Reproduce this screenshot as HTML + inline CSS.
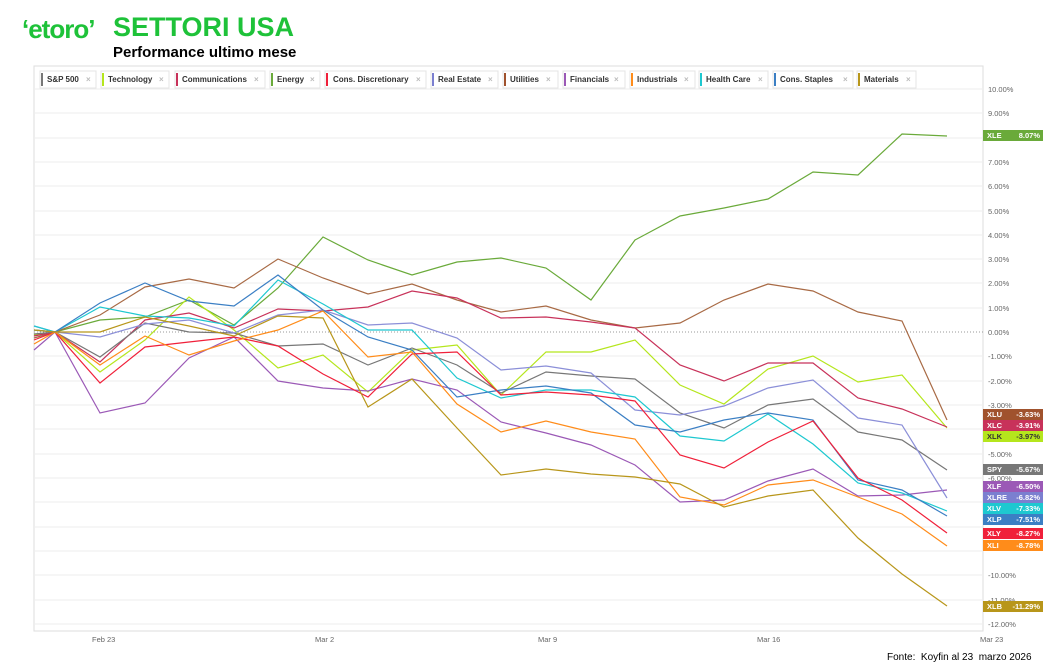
<!DOCTYPE html><html><head><meta charset="utf-8"><style>
body{margin:0;width:1049px;height:672px;background:#fff;overflow:hidden;font-family:"Liberation Sans",sans-serif;position:relative}
.t{position:absolute;left:113px;top:12px;font-size:27px;font-weight:bold;color:#1ec239}
.s{position:absolute;left:113px;top:44px;font-size:15px;font-weight:bold;color:#000}
.logo{position:absolute;left:22px;top:14px;font-size:26px;color:#1ec239;font-weight:bold;letter-spacing:-1px}
.f{position:absolute;left:887px;top:652px;font-size:10px}
</style></head><body>
<div class="logo">‘etoro’</div>
<div class="t">SETTORI USA</div>
<div class="s">Performance ultimo mese</div>
<svg width="1049" height="672" style="position:absolute;left:0;top:0" font-family="Liberation Sans, sans-serif">
<rect x="34" y="66" width="949" height="565" fill="none" stroke="#ddd"/>
<g stroke="#eee">
<line x1="34" x2="983" y1="89" y2="89"/><line x1="34" x2="983" y1="113" y2="113"/><line x1="34" x2="983" y1="138" y2="138"/><line x1="34" x2="983" y1="162" y2="162"/><line x1="34" x2="983" y1="186" y2="186"/><line x1="34" x2="983" y1="211" y2="211"/><line x1="34" x2="983" y1="235" y2="235"/><line x1="34" x2="983" y1="259" y2="259"/><line x1="34" x2="983" y1="283" y2="283"/><line x1="34" x2="983" y1="308" y2="308"/><line x1="34" x2="983" y1="356" y2="356"/><line x1="34" x2="983" y1="381" y2="381"/><line x1="34" x2="983" y1="405" y2="405"/><line x1="34" x2="983" y1="429" y2="429"/><line x1="34" x2="983" y1="454" y2="454"/><line x1="34" x2="983" y1="478" y2="478"/><line x1="34" x2="983" y1="502" y2="502"/><line x1="34" x2="983" y1="527" y2="527"/><line x1="34" x2="983" y1="551" y2="551"/><line x1="34" x2="983" y1="575" y2="575"/><line x1="34" x2="983" y1="600" y2="600"/><line x1="34" x2="983" y1="624" y2="624"/>
</g>
<line x1="34" x2="983" y1="332" y2="332" stroke="#999" stroke-dasharray="1,2"/>
<g font-size="7.5" fill="#666">
<text x="988" y="92">10.00%</text><text x="988" y="116">9.00%</text><text x="988" y="141">8.00%</text><text x="988" y="165">7.00%</text><text x="988" y="189">6.00%</text><text x="988" y="214">5.00%</text><text x="988" y="238">4.00%</text><text x="988" y="262">3.00%</text><text x="988" y="286">2.00%</text><text x="988" y="311">1.00%</text><text x="988" y="335">0.00%</text><text x="988" y="359">-1.00%</text><text x="988" y="384">-2.00%</text><text x="988" y="408">-3.00%</text><text x="988" y="457">-5.00%</text><text x="988" y="481">-6.00%</text><text x="988" y="578">-10.00%</text><text x="988" y="603">-11.00%</text><text x="988" y="627">-12.00%</text>
<text x="92" y="642">Feb 23</text><text x="315" y="642">Mar 2</text><text x="538" y="642">Mar 9</text><text x="757" y="642">Mar 16</text><text x="980" y="642">Mar 23</text>
</g>
<g fill="none" stroke-width="1.2">
<polyline stroke="#6aaa3a" points="34,330 55,332 100,320 145,317 189,300 234,325 278,288 323,237 368,260 412,275 457,262 501,258 546,268 591,300 635,240 680,216 724,208 768,199 813,172 858,175 902,134 947,136"/>
<polyline stroke="#a86a45" points="34,338 55,332 100,315 145,287 189,279 234,288 278,259 323,278 368,294 412,284 457,300 501,312 546,306 591,320 635,328 680,323 724,300 768,284 813,291 858,312 902,321 947,420"/>
<polyline stroke="#b5e61d" points="34,335 55,332 100,372 145,340 189,297 234,330 278,368 323,355 368,392 412,350 457,345 501,395 546,352 591,352 635,340 680,385 724,404 768,369 813,356 858,382 902,375 947,428"/>
<polyline stroke="#c8325a" points="34,336 55,332 100,362 145,320 189,313 234,328 278,309 323,311 368,307 412,291 457,298 501,318 546,317 591,322 635,328 680,365 724,381 768,363 813,363 858,398 902,409 947,427"/>
<polyline stroke="#777" points="34,334 55,332 100,357 145,323 189,332 234,333 278,346 323,344 368,365 412,348 457,365 501,393 546,372 591,376 635,379 680,413 724,428 768,405 813,399 858,432 902,440 947,470"/>
<polyline stroke="#9b59b6" points="34,350 55,332 100,413 145,403 189,358 234,337 278,381 323,388 368,391 412,379 457,390 501,422 546,433 591,445 635,465 680,502 724,500 768,481 813,469 858,496 902,495 947,490"/>
<polyline stroke="#8b8fd8" points="34,326 55,332 100,337 145,324 189,320 234,333 278,315 323,310 368,325 412,323 457,338 501,370 546,366 591,373 635,410 680,415 724,406 768,388 813,380 858,418 902,425 947,498"/>
<polyline stroke="#1ec8d0" points="34,326 55,332 100,307 145,316 189,318 234,326 278,280 323,304 368,330 412,330 457,378 501,398 546,390 591,390 635,397 680,436 724,441 768,414 813,444 858,483 902,493 947,511"/>
<polyline stroke="#3b7fc4" points="34,330 55,332 100,303 145,283 189,301 234,306 278,275 323,310 368,337 412,350 457,397 501,390 546,386 591,393 635,425 680,432 724,420 768,413 813,420 858,480 902,490 947,516"/>
<polyline stroke="#f0203a" points="34,340 55,332 100,383 145,347 189,342 234,337 278,346 323,374 368,397 412,354 457,352 501,395 546,392 591,395 635,401 680,455 724,468 768,442 813,421 858,478 902,500 947,533"/>
<polyline stroke="#ff8c1a" points="34,344 55,332 100,365 145,336 189,355 234,341 278,330 323,311 368,357 412,352 457,404 501,432 546,421 591,432 635,439 680,497 724,505 768,485 813,480 858,497 902,514 947,546"/>
<polyline stroke="#b8961a" points="34,330 55,332 100,332 145,317 189,326 234,336 278,316 323,318 368,407 412,379 457,428 501,475 546,469 591,474 635,477 680,484 724,507 768,496 813,490 858,538 902,574 947,606"/>
</g>
<g font-size="7.5" font-weight="bold" fill="#fff">
<rect x="983" y="130" width="60" height="11" fill="#6aaa3a"/><text x="987" y="138">XLE</text><text x="1040" y="138" text-anchor="end">8.07%</text>
<rect x="983" y="409" width="60" height="11" fill="#a0522d"/><text x="987" y="417">XLU</text><text x="1040" y="417" text-anchor="end">-3.63%</text>
<rect x="983" y="420" width="60" height="11" fill="#c8325a"/><text x="987" y="428">XLC</text><text x="1040" y="428" text-anchor="end">-3.91%</text>
<rect x="983" y="431" width="60" height="11" fill="#b5e61d"/><text x="987" y="439" fill="#333">XLK</text><text x="1040" y="439" text-anchor="end" fill="#333">-3.97%</text>
<rect x="983" y="464" width="60" height="11" fill="#777"/><text x="987" y="472">SPY</text><text x="1040" y="472" text-anchor="end">-5.67%</text>
<rect x="983" y="481" width="60" height="11" fill="#9b59b6"/><text x="987" y="489">XLF</text><text x="1040" y="489" text-anchor="end">-6.50%</text>
<rect x="983" y="492" width="60" height="11" fill="#7b7fd0"/><text x="987" y="500">XLRE</text><text x="1040" y="500" text-anchor="end">-6.82%</text>
<rect x="983" y="503" width="60" height="11" fill="#1ec8d0"/><text x="987" y="511">XLV</text><text x="1040" y="511" text-anchor="end">-7.33%</text>
<rect x="983" y="514" width="60" height="11" fill="#3b7fc4"/><text x="987" y="522">XLP</text><text x="1040" y="522" text-anchor="end">-7.51%</text>
<rect x="983" y="528" width="60" height="11" fill="#f0203a"/><text x="987" y="536">XLY</text><text x="1040" y="536" text-anchor="end">-8.27%</text>
<rect x="983" y="540" width="60" height="11" fill="#ff8c1a"/><text x="987" y="548">XLI</text><text x="1040" y="548" text-anchor="end">-8.78%</text>
<rect x="983" y="601" width="60" height="11" fill="#b8961a"/><text x="987" y="609">XLB</text><text x="1040" y="609" text-anchor="end">-11.29%</text>
</g>
<g font-size="8" font-weight="bold" fill="#333">
<g><rect x="40" y="71" width="56" height="17" fill="#fff" stroke="#e4e4e4"/><rect x="41" y="73" width="2" height="13" fill="#777"/><text x="47" y="82">S&amp;P 500</text><text x="86" y="82" fill="#bbb">×</text></g>
<g><rect x="101" y="71" width="68" height="17" fill="#fff" stroke="#e4e4e4"/><rect x="102" y="73" width="2" height="13" fill="#b5e61d"/><text x="108" y="82">Technology</text><text x="159" y="82" fill="#bbb">×</text></g>
<g><rect x="175" y="71" width="90" height="17" fill="#fff" stroke="#e4e4e4"/><rect x="176" y="73" width="2" height="13" fill="#c8325a"/><text x="182" y="82">Communications</text><text x="254" y="82" fill="#bbb">×</text></g>
<g><rect x="270" y="71" width="50" height="17" fill="#fff" stroke="#e4e4e4"/><rect x="271" y="73" width="2" height="13" fill="#6aaa3a"/><text x="277" y="82">Energy</text><text x="310" y="82" fill="#bbb">×</text></g>
<g><rect x="325" y="71" width="101" height="17" fill="#fff" stroke="#e4e4e4"/><rect x="326" y="73" width="2" height="13" fill="#f0203a"/><text x="333" y="82">Cons. Discretionary</text><text x="416" y="82" fill="#bbb">×</text></g>
<g><rect x="431" y="71" width="67" height="17" fill="#fff" stroke="#e4e4e4"/><rect x="432" y="73" width="2" height="13" fill="#7b7fd0"/><text x="438" y="82">Real Estate</text><text x="488" y="82" fill="#bbb">×</text></g>
<g><rect x="503" y="71" width="55" height="17" fill="#fff" stroke="#e4e4e4"/><rect x="504" y="73" width="2" height="13" fill="#a0522d"/><text x="510" y="82">Utilities</text><text x="546" y="82" fill="#bbb">×</text></g>
<g><rect x="563" y="71" width="62" height="17" fill="#fff" stroke="#e4e4e4"/><rect x="564" y="73" width="2" height="13" fill="#9b59b6"/><text x="570" y="82">Financials</text><text x="614" y="82" fill="#bbb">×</text></g>
<g><rect x="630" y="71" width="65" height="17" fill="#fff" stroke="#e4e4e4"/><rect x="631" y="73" width="2" height="13" fill="#ff8c1a"/><text x="637" y="82">Industrials</text><text x="684" y="82" fill="#bbb">×</text></g>
<g><rect x="699" y="71" width="69" height="17" fill="#fff" stroke="#e4e4e4"/><rect x="700" y="73" width="2" height="13" fill="#1ec8d0"/><text x="706" y="82">Health Care</text><text x="758" y="82" fill="#bbb">×</text></g>
<g><rect x="773" y="71" width="80" height="17" fill="#fff" stroke="#e4e4e4"/><rect x="774" y="73" width="2" height="13" fill="#3b7fc4"/><text x="780" y="82">Cons. Staples</text><text x="843" y="82" fill="#bbb">×</text></g>
<g><rect x="857" y="71" width="59" height="17" fill="#fff" stroke="#e4e4e4"/><rect x="858" y="73" width="2" height="13" fill="#b8961a"/><text x="864" y="82">Materials</text><text x="906" y="82" fill="#bbb">×</text></g>
</g>
</svg>
<div class="f">Fonte:&nbsp; Koyfin al 23&nbsp; marzo 2026</div>
</body></html>
